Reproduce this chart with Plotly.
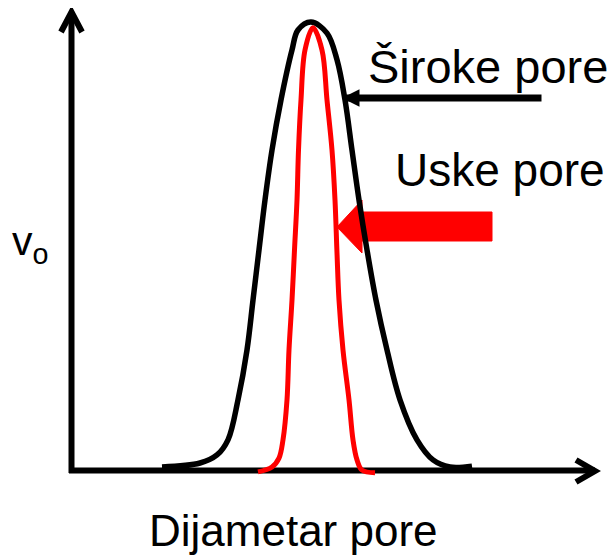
# =============================================================================
# Pore size distribution sketch: wide pores vs narrow pores
# =============================================================================

import plotly.graph_objects as go

# diameter (arbitrary units) and v_o (arbitrary units, peak ~100)
wide_d = [18.0, 25.6, 29.0, 31.2, 33.2, 35.0, 36.2, 37.4, 38.6, 40.0, 41.8,
          44.0, 45.2, 47.8, 51.0, 53.0, 54.6, 56.0, 57.4, 59.0, 60.8, 63.0,
          65.6, 69.0, 72.2, 75.6, 80.0]
wide_v = [0.0, 0.9, 2.7, 6.1, 15.1, 26.3, 37.5, 48.8, 60.0, 71.2, 82.5,
          93.7, 98.2, 100.0, 97.5, 91.5, 82.5, 71.2, 60.0, 48.8, 37.5, 26.3,
          15.1, 6.1, 1.6, 0.0, 0.2]

narrow_d = [37.2, 40.0, 41.4, 42.2, 43.0, 43.4, 44.0, 44.5, 45.0, 45.3, 45.8,
            46.6, 48.2, 50.0, 51.0, 52.0, 52.6, 53.0, 53.4, 54.2, 55.4, 56.2,
            57.0, 58.0, 60.6]
narrow_v = [-1.1, 0.0, 2.0, 6.1, 15.1, 26.3, 37.5, 48.8, 60.0, 71.2, 82.5,
            93.7, 98.7, 93.7, 82.5, 71.2, 60.0, 48.1, 37.5, 26.3, 15.1, 6.1,
            1.6, -0.7, -1.3]

labels = ["Široke pore", "Uske pore"]
x_title = "Dijametar pore"
y_title = "v<sub>o</sub>"

# picture pixels <-> data units (used only for decorations)
X0, SX, Y0, SY = 72, 5.0, 467, 4.45
# the page body keeps an 8px margin, so the figure starts 8px in
PAD = 8


def dx(px):
    return (px - X0) / SX


def dy(py):
    return (Y0 - py) / SY


def path(points):
    return "M" + " L".join(f"{dx(a):.3f},{dy(b):.3f}" for a, b in points)


fig = go.Figure()

fig.add_trace(go.Scatter(x=wide_d, y=wide_v, mode="lines",
                         line=dict(color="black", width=5.5, shape="spline",
                                   smoothing=1.0),
                         showlegend=False, hoverinfo="skip"))
fig.add_trace(go.Scatter(x=narrow_d, y=narrow_v, mode="lines",
                         line=dict(color="#ff0000", width=5, shape="spline",
                                   smoothing=1.0),
                         showlegend=False, hoverinfo="skip"))

# =============================================================================
# Hand-drawn axes with open arrow heads
# =============================================================================

axis_line = dict(color="black", width=6)
shapes = [
    dict(type="path", path=path([(71.5, 473), (71.5, 12)]), line=axis_line),
    dict(type="path", path=path([(61, 32), (71.5, 12), (82, 32)]),
         line=axis_line),
    dict(type="path", path=path([(69, 470.5), (595, 470.5)]), line=axis_line),
    dict(type="path", path=path([(576, 460), (595, 471), (576, 482)]),
         line=axis_line),
    # thick red arrow pointing at the narrow peak
    dict(type="path",
         path=path([(337, 227), (362, 200), (362, 212), (492, 212),
                    (492, 241), (362, 241), (362, 253)]) + " Z",
         fillcolor="#ff0000", line=dict(color="#ff0000", width=1)),
]
for s in shapes:
    s.update(xref="x", yref="y", layer="below")

font = dict(family="Liberation Sans, Arial, sans-serif", color="black")

annotations = [
    # thin black arrow pointing at the wide peak
    dict(x=dx(342), y=dy(98), ax=dx(543), ay=dy(98), axref="x", ayref="y",
         xref="x", yref="y", text="", showarrow=True, arrowhead=2,
         arrowsize=0.5, arrowwidth=7, arrowcolor="black"),
    dict(x=dx(366), y=dy(66), text=labels[0], showarrow=False,
         xanchor="left", yanchor="middle", font=dict(size=47, **font)),
    dict(x=dx(393), y=dy(170), text=labels[1], showarrow=False,
         xanchor="left", yanchor="middle", font=dict(size=46, **font)),
    dict(x=dx(293.5), y=dy(530), text=x_title, showarrow=False,
         xanchor="center", yanchor="middle", font=dict(size=44, **font)),
    dict(x=dx(10), y=dy(244), text=y_title, showarrow=False,
         xanchor="left", yanchor="middle", font=dict(size=41, **font)),
]

fig.update_layout(
    width=616 - PAD, height=555 - PAD,
    margin=dict(l=0, r=0, t=0, b=0),
    paper_bgcolor="white", plot_bgcolor="white",
    xaxis=dict(range=[dx(PAD), dx(616)], visible=False, fixedrange=True),
    yaxis=dict(range=[dy(555), dy(PAD)], visible=False, fixedrange=True),
    shapes=shapes,
    annotations=annotations,
)

fig.write_html("out.html")
